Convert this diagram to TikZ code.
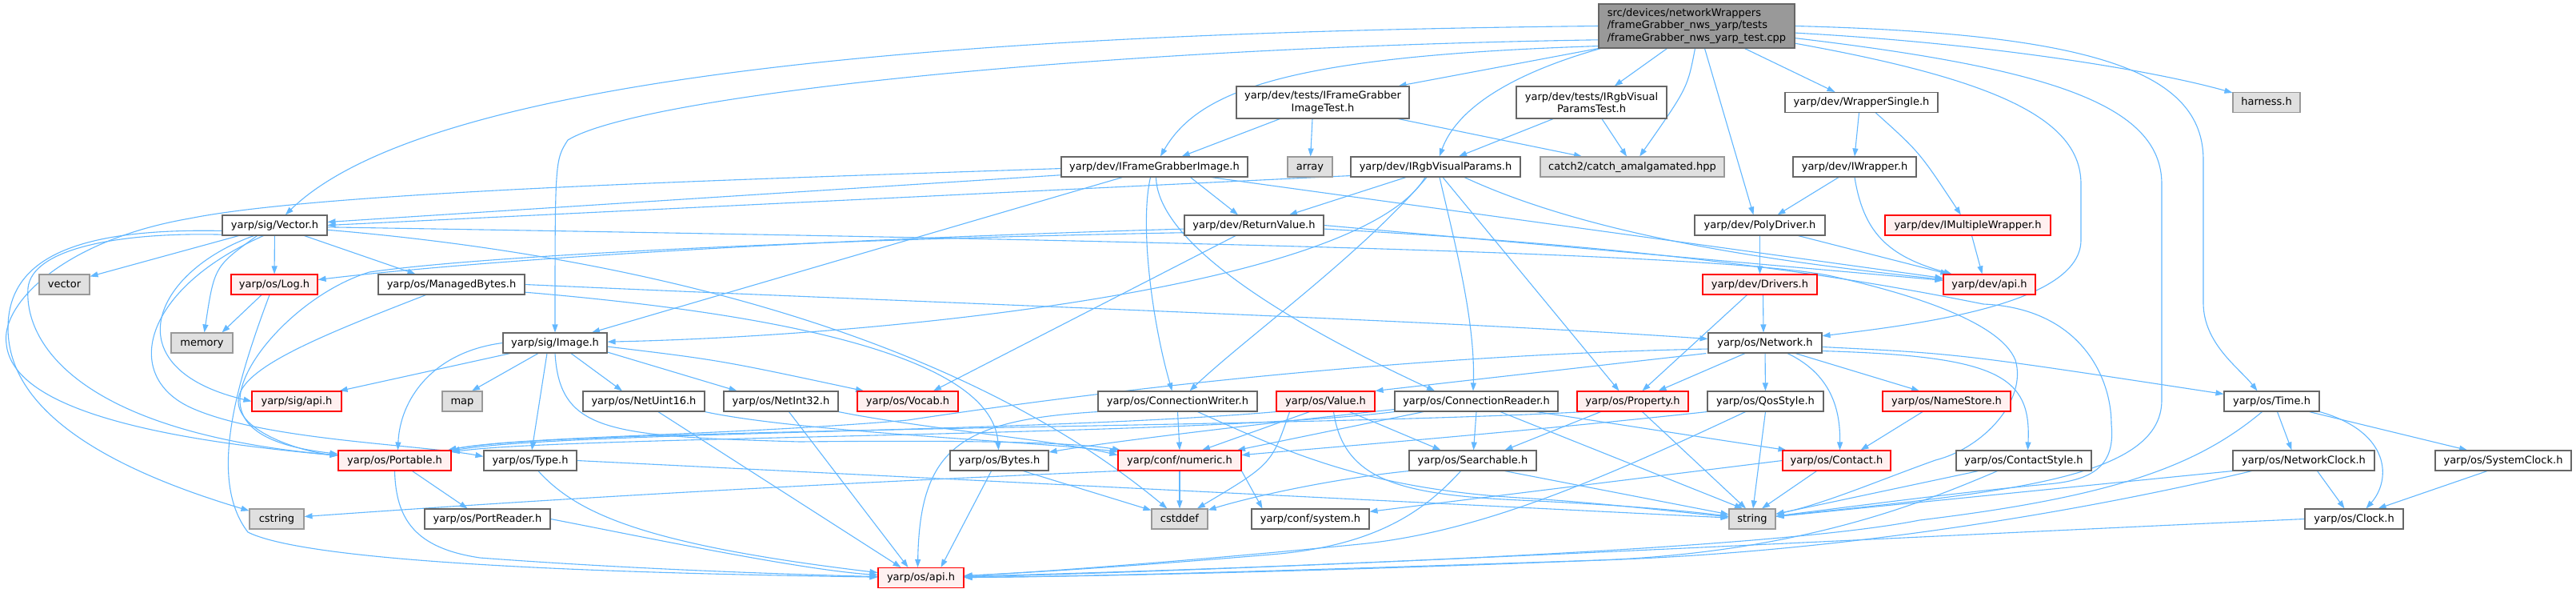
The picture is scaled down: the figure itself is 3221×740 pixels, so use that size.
\documentclass[tikz,border=0pt]{standalone}
\usepackage{fontspec}
\setmainfont{DejaVu Sans}
\usetikzlibrary{arrows.meta}
\pgfdeclarelayer{bg}
\pgfsetlayers{bg,main}
\definecolor{edgec}{HTML}{63B8FF}
\definecolor{nbord}{HTML}{666666}
\definecolor{gbord}{HTML}{999999}
\definecolor{gfill}{HTML}{E0E0E0}
\definecolor{rfill}{HTML}{FFF0F0}
\definecolor{rbord}{HTML}{FF0000}
\definecolor{rootfill}{HTML}{999999}
\newcommand\nodefont{\fontsize{13}{15.5}\selectfont}
\tikzset{
  basebox/.style={draw=nbord, fill=white, line width=1.1pt, minimum height=25pt, inner xsep=4pt, inner ysep=0pt, font=\nodefont, text=black},
  nbox/.style={basebox, text height=9.5pt, text depth=2.5pt},
  rbox/.style={nbox, draw=rbord, fill=rfill},
  gbox/.style={nbox, draw=gbord, fill=gfill},
  rootbox/.style={basebox, fill=rootfill, draw=nbord},
  dep/.style={draw=edgec, line width=1.1pt, -{Triangle[length=10pt,width=7pt]}}
}
\begin{document}
\begin{tikzpicture}[x=1pt,y=-1pt]
\useasboundingbox (0,0) rectangle (3221,740);
% ---------- nodes ----------
\node[rootbox, minimum width=245pt, minimum height=55pt, align=left] (r) at (2121.5,32.5) {src/devices/networkWrappers\\/frameGrabber\_nws\_yarp/tests\\/frameGrabber\_nws\_yarp\_test.cpp};
\node[basebox, minimum width=216pt, minimum height=40pt, align=center] (ifgit) at (1654,128) {yarp/dev/tests/IFrameGrabber\\ImageTest.h};
\node[basebox, minimum width=188pt, minimum height=40pt, align=center] (irgbt) at (1990,128) {yarp/dev/tests/IRgbVisual\\ParamsTest.h};
\node[nbox, minimum width=191pt] (wsing) at (2327.5,128) {yarp/dev/WrapperSingle.h};
\node[gbox, minimum width=84pt] (harn) at (2834,128) {harness.h};
\node[nbox, minimum width=233pt] (ifgi) at (1443.5,208.5) {yarp/dev/IFrameGrabberImage.h};
\node[gbox, minimum width=56pt] (arr) at (1638,208.5) {array};
\node[nbox, minimum width=212pt] (irgb) at (1795,208.5) {yarp/dev/IRgbVisualParams.h};
\node[gbox, minimum width=230pt] (catch) at (2041,208.5) {catch2/catch\_amalgamated.hpp};
\node[nbox, minimum width=154pt] (iwrap) at (2319,208.5) {yarp/dev/IWrapper.h};
\node[nbox, minimum width=131pt] (vec) at (343.5,281.5) {yarp/sig/Vector.h};
\node[nbox, minimum width=174pt] (rv) at (1568,281.5) {yarp/dev/ReturnValue.h};
\node[nbox, minimum width=163pt] (poly) at (2200.5,281.5) {yarp/dev/PolyDriver.h};
\node[rbox, minimum width=207pt] (imw) at (2460.5,281.5) {yarp/dev/IMultipleWrapper.h};
\node[gbox, minimum width=63pt] (vecs) at (80.5,355.5) {vector};
\node[rbox, minimum width=108pt] (log) at (343,355.5) {yarp/os/Log.h};
\node[nbox, minimum width=183pt] (mb) at (564.5,355.5) {yarp/os/ManagedBytes.h};
\node[rbox, minimum width=143pt] (drv) at (2200.5,355.5) {yarp/dev/Drivers.h};
\node[rbox, minimum width=115pt] (dapi) at (2487.5,355.5) {yarp/dev/api.h};
\node[gbox, minimum width=77pt] (mem) at (252.5,428.5) {memory};
\node[nbox, minimum width=130pt] (img) at (694,428.5) {yarp/sig/Image.h};
\node[nbox, minimum width=142pt] (net) at (2207,428.5) {yarp/os/Network.h};
\node[rbox, minimum width=112pt] (sapi) at (371,501.5) {yarp/sig/api.h};
\node[gbox, minimum width=50pt] (map) at (578,501.5) {map};
\node[nbox, minimum width=152pt] (nu16) at (805,501.5) {yarp/os/NetUint16.h};
\node[nbox, minimum width=143pt] (ni32) at (976.5,501.5) {yarp/os/NetInt32.h};
\node[rbox, minimum width=126pt] (voc) at (1135,501.5) {yarp/os/Vocab.h};
\node[nbox, minimum width=199pt] (cw) at (1472.5,501.5) {yarp/os/ConnectionWriter.h};
\node[rbox, minimum width=123pt] (val) at (1657.5,501.5) {yarp/os/Value.h};
\node[nbox, minimum width=204pt] (cr) at (1846,501.5) {yarp/os/ConnectionReader.h};
\node[rbox, minimum width=139pt] (prop) at (2041.5,501.5) {yarp/os/Property.h};
\node[nbox, minimum width=145pt] (qos) at (2207.5,501.5) {yarp/os/QosStyle.h};
\node[rbox, minimum width=160pt] (ns) at (2434,501.5) {yarp/os/NameStore.h};
\node[nbox, minimum width=119pt] (time) at (2840.5,501.5) {yarp/os/Time.h};
\node[rbox, minimum width=141pt] (port) at (493.5,575.5) {yarp/os/Portable.h};
\node[nbox, minimum width=116pt] (type) at (663,575.5) {yarp/os/Type.h};
\node[nbox, minimum width=123pt] (bytes) at (1249.5,575.5) {yarp/os/Bytes.h};
\node[rbox, minimum width=154pt] (num) at (1475,575.5) {yarp/conf/numeric.h};
\node[nbox, minimum width=159pt] (srch) at (1841.5,575.5) {yarp/os/Searchable.h};
\node[rbox, minimum width=135pt] (cont) at (2296.5,575.5) {yarp/os/Contact.h};
\node[nbox, minimum width=169pt] (cstyle) at (2530.5,575.5) {yarp/os/ContactStyle.h};
\node[nbox, minimum width=177pt] (nclk) at (2880.5,575.5) {yarp/os/NetworkClock.h};
\node[nbox, minimum width=170pt] (sclk) at (3130,575.5) {yarp/os/SystemClock.h};
\node[gbox, minimum width=68pt] (cstr) at (346,648.5) {cstring};
\node[nbox, minimum width=157pt] (prd) at (609.5,648.5) {yarp/os/PortReader.h};
\node[gbox, minimum width=70pt] (cdef) at (1475,648.5) {cstddef};
\node[nbox, minimum width=147pt] (csys) at (1638.5,648.5) {yarp/conf/system.h};
\node[gbox, minimum width=58pt] (str) at (2191,648.5) {string};
\node[nbox, minimum width=123pt] (clk) at (2943.5,648.5) {yarp/os/Clock.h};
\node[rbox, minimum width=107pt] (oapi) at (1151.5,722) {yarp/os/api.h};
% ---------- edges ----------
\begin{pgfonlayer}{bg}
\fill[white] (0,0) rectangle (3221,740);
% root
\draw[dep] (r.west) .. controls (1300,40) and (550,80) .. (vec);
\draw[dep] (r.188) .. controls (1350,60) and (800,120) .. (710,175) .. controls (694,200) .. (img.north);
\draw[dep] ([yshift=3pt]r.south west) .. controls (1620,70) and (1500,110) .. (ifgi);
\draw[dep] (r.south west) -- ([xshift=-14pt]ifgit.north east);
\draw[dep] ([xshift=3pt]r.south west) .. controls (1880,95) and (1820,140) .. (irgb);
\draw[dep] ([xshift=-37pt]r.south) -- (irgbt);
\draw[dep] ([xshift=-2pt]r.south) .. controls (2110,110) .. (catch);
\draw[dep] ([xshift=10pt]r.south) -- ([xshift=-8pt]poly.north);
\draw[dep] ([xshift=60pt]r.south) -- ([xshift=-33pt]wsing.north);
\draw[dep] (r.east) .. controls (2620,42) and (2755,90) .. (2755,200) -- (2755,380) .. controls (2756,430) and (2800,460) .. ([xshift=-18pt]time.north);
\draw[dep] (r.-4) .. controls (2500,55) and (2700,90) .. (harn);
\draw[dep] (r.-7) .. controls (2560,85) and (2703,130) .. (2703,230) -- (2703,500) .. controls (2703,600) and (2500,615) .. (str);
\draw[dep] (r.-10) .. controls (2500,100) and (2602,150) .. (2602,230) -- (2602,300) .. controls (2602,380) and (2400,405) .. (net);
% tests
\draw[dep] (ifgit) -- (ifgi);
\draw[dep] ([xshift=-13pt]ifgit.south) -- (arr);
\draw[dep] ([xshift=-14pt]ifgit.south east) -- ([xshift=-63pt]catch.north);
\draw[dep] ([xshift=-48pt]irgbt.south) -- ([xshift=29pt]irgb.north);
\draw[dep] ([xshift=13pt]irgbt.south) -- ([xshift=-7pt]catch.north);
% wrappers
\draw[dep] ([xshift=-3pt]wsing.south) -- (iwrap.north);
\draw[dep] ([xshift=18pt]wsing.south) .. controls (2400,190) .. (imw);
\draw[dep] ([xshift=-20pt]iwrap.south) -- ([xshift=22pt]poly.north);
\draw[dep] (iwrap.south) .. controls (2330,290) and (2360,320) .. (dapi);
\draw[dep] (poly) -- (drv);
\draw[dep] ([xshift=48pt]poly.south) -- (dapi);
\draw[dep] ([xshift=5pt]imw.south) -- ([xshift=-9pt]dapi.north);
\draw[dep] ([xshift=4pt]drv.south) -- ([xshift=-2pt]net.north);
\draw[dep] ([xshift=-16pt]drv.south) -- ([xshift=12pt]prop.north);
% network
\draw[dep] ([xshift=-25pt]net.south) -- ([xshift=32pt]prop.north);
\draw[dep] (net) -- (qos);
\draw[dep] ([xshift=-2pt]net.south west) -- (val.north east);
\draw[dep] (net.186) .. controls (1700,445) and (1300,500) .. (1135,525) .. controls (900,545) and (650,545) .. (port);
\draw[dep] ([xshift=28pt]net.south) .. controls (2295,470) and (2301,520) .. ([xshift=4pt]cont.north);
\draw[dep] ([xshift=38pt]net.south) -- ([xshift=-34pt]ns.north);
\draw[dep] (net.-8) .. controls (2500,445) and (2540,470) .. ([xshift=5pt]cstyle.north);
\draw[dep] (net.-4) .. controls (2450,442) .. (time);
% IFrameGrabberImage
\draw[dep] (ifgi.185) -- ([yshift=4pt]vec.east);
\draw[dep] (ifgi.181) .. controls (900,225) and (400,240) .. (237,273) .. controls (80,300) and (0,380) .. (8,430) .. controls (15,500) and (150,545) .. (port);
\draw[dep] ([xshift=45pt]ifgi.south) -- ([xshift=-20pt]rv.north);
\draw[dep] ([xshift=-5pt]ifgi.south) .. controls (1425,280) and (1440,400) .. ([xshift=-7pt]cw.north);
\draw[dep] ([xshift=2pt]ifgi.south) .. controls (1447,290) and (1560,380) .. ([xshift=-52pt]cr.north);
\draw[dep] ([xshift=-40pt]ifgi.south) -- ([xshift=46pt]img.north);
\draw[dep] ([xshift=71pt]ifgi.south) -- (dapi);
% IRgbVisualParams
\draw[dep] ([yshift=2pt]irgb.south west) -- (vec.east);
\draw[dep] ([xshift=-37pt]irgb.south) -- ([xshift=44pt]rv.north);
\draw[dep] ([xshift=-13pt]irgb.south) .. controls (1700,360) and (1100,420) .. (img);
\draw[dep] ([xshift=-11pt]irgb.south) .. controls (1700,320) and (1560,420) .. ([xshift=15pt]cw.north);
\draw[dep] ([xshift=5pt]irgb.south) .. controls (1818,300) and (1845,400) .. ([xshift=-4pt]cr.north);
\draw[dep] ([xshift=9pt]irgb.south) -- ([xshift=-17pt]prop.north);
\draw[dep] ([xshift=36pt]irgb.south) .. controls (2000,300) and (2250,330) .. (dapi);
% ReturnValue
\draw[dep] (rv.183) .. controls (1000,300) and (600,325) .. ([yshift=6pt]log.east);
\draw[dep] (rv.186) .. controls (1000,300) and (600,320) .. (462,340) .. controls (380,365) and (300,450) .. (300,500) .. controls (300,545) and (360,560) .. (port);
\draw[dep] ([xshift=-23pt]rv.south) -- ([xshift=32pt]voc.north);
\draw[dep] (rv.east) -- (dapi);
\draw[dep] (rv.-3) .. controls (2100,310) and (2330,350) .. (2480,380) .. controls (2600,385) and (2640,470) .. (2640,530) .. controls (2645,580) and (2620,600) .. (2560,605) .. controls (2450,615) and (2300,635) .. (str);
% Vector
\draw[dep] ([xshift=-45pt]vec.south) -- ([yshift=-3pt]vecs.north east);
\draw[dep] (vec) -- (log);
\draw[dep] ([xshift=-22pt]vec.south) .. controls (268,333) .. ([xshift=3pt]mem.north);
\draw[dep] ([xshift=37pt]vec.south) -- ([xshift=-45pt]mb.north);
\draw[dep] ([xshift=-26pt]vec.south) .. controls (190,340) and (140,460) .. (sapi.west);
\draw[dep] ([xshift=-14pt]vec.south) .. controls (180,360) and (150,470) .. (240,510) .. controls (330,550) and (520,555) .. (type.175);
\draw[dep] (vec.190) .. controls (150,290) and (40,310) .. (35,360) .. controls (30,430) and (100,540) .. (port);
\draw[dep] (vec.186) .. controls (100,285) and (10,320) .. (10,410) .. controls (10,520) and (150,590) .. (cstr);
\draw[dep] (vec.-5) .. controls (800,320) and (1200,420) .. (cdef);
\draw[dep] (vec.-2) .. controls (1400,300) and (2150,315) .. (2290,345) .. controls (2380,365) and (2500,400) .. (2520,450) .. controls (2535,500) and (2480,560) .. (2420,575) .. controls (2350,600) and (2280,630) .. (str);
% Log
\draw[dep] ([xshift=-16pt]log.south) -- ([xshift=25pt]mem.north);
\draw[dep] ([xshift=-6pt]log.south) .. controls (295,480) and (260,600) .. (310,665) .. controls (400,710) and (900,718) .. (oapi);
% ManagedBytes
\draw[dep] (mb.east) .. controls (1200,380) and (1800,400) .. (net);
\draw[dep] (mb.-6) .. controls (950,390) and (1240,440) .. (bytes);
\draw[dep] ([xshift=-32pt]mb.south) .. controls (400,420) and (300,460) .. (298,500) .. controls (296,540) and (380,565) .. (port);
% Image
\draw[dep] ([xshift=-56pt]img.south) -- ([xshift=-3pt]sapi.north east);
\draw[dep] ([xshift=-21pt]img.south) -- ([xshift=12pt]map.north);
\draw[dep] ([xshift=-10pt]img.south) -- (type);
\draw[dep] ([xshift=20pt]img.south) -- ([xshift=-27pt]nu16.north);
\draw[dep] (img.-10) -- ([xshift=-55pt]ni32.north);
\draw[dep] (img.-4) .. controls (900,450) .. ([xshift=-55pt]voc.north);
\draw[dep] (img.west) .. controls (540,440) and (500,500) .. ([xshift=4pt]port.north);
\draw[dep] (img.south) .. controls (700,540) and (760,545) .. (1000,552) .. controls (1200,550) and (1340,552) .. (num.170);
% NetUint16 / NetInt32
\draw[dep] (nu16.south east) .. controls (1000,540) and (1300,552) .. (num.172);
\draw[dep] (ni32.south east) .. controls (1150,535) and (1320,550) .. (num.175);
\draw[dep] ([xshift=18pt]nu16.south) -- ([xshift=-25pt]oapi.north);
\draw[dep] ([xshift=10pt]ni32.south) -- ([xshift=-16pt]oapi.north);
% ConnectionWriter
\draw[dep] (cw.south) -- (num.north);
\draw[dep] (cw.south west) .. controls (1200,525) and (1150,560) .. ([xshift=-4pt]oapi.north);
\draw[dep] ([xshift=25pt]cw.south) .. controls (1600,560) and (1700,610) .. (1900,622) .. controls (2000,628) and (2100,640) .. (str);
% Value
\draw[dep] ([xshift=-20pt]val.south) -- ([xshift=28pt]num.north);
\draw[dep] ([xshift=-45pt]val.south) .. controls (1590,580) .. (cdef);
\draw[dep] ([xshift=30pt]val.south) -- ([xshift=-40pt]srch.north);
\draw[dep] ([xshift=10pt]val.south) .. controls (1680,600) and (1750,618) .. (1900,625) .. controls (2050,632) and (2120,640) .. (str);
\draw[dep] (val.south west) .. controls (1300,540) and (700,540) .. (port);
% ConnectionReader
\draw[dep] ([xshift=-66pt]cr.south) -- ([xshift=72pt]num.north);
\draw[dep] (cr.south) -- ([xshift=1pt]srch.north);
\draw[dep] ([xshift=30pt]cr.south) -- ([xshift=-12pt]str.north);
\draw[dep] ([xshift=75pt]cr.south) -- ([xshift=-63pt]cont.north);
\draw[dep] ([yshift=3pt]cr.south west) .. controls (1600,527) and (1400,550) .. (bytes);
\draw[dep] (cr.south west) .. controls (1500,545) and (700,545) .. (port);
% Property
\draw[dep] ([xshift=-60pt]prop.south) .. controls (1600,535) and (700,535) .. (port);
\draw[dep] ([xshift=-40pt]prop.south) -- ([xshift=40pt]srch.north);
\draw[dep] ([xshift=12pt]prop.south) -- ([xshift=-8pt]str.north);
% QosStyle
\draw[dep] (qos.south west) .. controls (1900,540) and (1650,560) .. (num);
\draw[dep] ([xshift=-25pt]qos.south) .. controls (2000,600) and (1850,665) .. (1700,680) .. controls (1500,700) and (1300,715) .. (oapi);
\draw[dep] (qos.south) -- ([xshift=1pt]str.north);
% NameStore, Contact, ContactStyle
\draw[dep] ([xshift=-30pt]ns.south) -- ([xshift=30pt]cont.north);
\draw[dep] (cont.west) -- (csys);
\draw[dep] ([xshift=-25pt]cont.south) -- ([xshift=12pt]str.north);
\draw[dep] ([xshift=-57pt]cstyle.south) -- (str);
\draw[dep] ([xshift=-33pt]cstyle.south) .. controls (2400,630) and (2250,690) .. (2000,700) .. controls (1700,712) and (1400,720) .. (oapi);
% Searchable
\draw[dep] ([xshift=-15pt]srch.south) .. controls (1780,640) and (1720,680) .. (1600,692) .. controls (1450,705) and (1300,715) .. (oapi);
\draw[dep] ([xshift=40pt]srch.south) -- (str);
\draw[dep] (srch.south west) .. controls (1650,600) and (1550,625) .. (cdef);
% Bytes, numeric
\draw[dep] ([xshift=-10pt]bytes.south) -- ([xshift=25pt]oapi.north);
\draw[dep] ([xshift=30pt]bytes.south) -- (cdef);
\draw[dep] (num) -- (cdef);
\draw[dep] (num.south west) .. controls (900,610) and (600,630) .. ([yshift=3pt]cstr.east);
\draw[dep] (num.south east) -- ([xshift=-60pt]csys.north);
% Type, Portable, PortReader
\draw[dep] ([xshift=10pt]type.south) .. controls (720,640) and (800,680) .. (oapi);
\draw[dep] (type.east) -- (str);
\draw[dep] ([xshift=22pt]port.south) -- ([xshift=-25pt]prd.north);
\draw[dep] (port.south) .. controls (495,650) and (520,685) .. (600,697) .. controls (800,712) and (1000,718) .. (oapi);
\draw[dep] (prd.east) .. controls (800,670) and (1000,712) .. (oapi);
% Time and clocks
\draw[dep] ([xshift=-12pt]time.south) .. controls (2750,580) and (2650,620) .. (2400,650) .. controls (2200,690) and (1500,712) .. (oapi);
\draw[dep] ([xshift=7pt]time.south) -- ([xshift=-15pt]nclk.north);
\draw[dep] ([xshift=47pt]time.south) -- ([xshift=-45pt]sclk.north);
\draw[dep] (time.south east) .. controls (2990,540) and (2990,600) .. ([xshift=15pt]clk.north);
\draw[dep] ([xshift=17pt]nclk.south) -- ([xshift=-12pt]clk.north);
\draw[dep] (nclk.south west) -- (str);
\draw[dep] ([xshift=-65pt]nclk.south) .. controls (2600,640) and (2300,690) .. (2000,700) .. controls (1700,710) and (1400,720) .. (oapi);
\draw[dep] ([xshift=-20pt]sclk.south) -- ([xshift=30pt]clk.north);
\draw[dep] (clk.west) .. controls (2400,670) and (1600,712) .. (oapi);
\end{pgfonlayer}
\end{tikzpicture}
\end{document}
